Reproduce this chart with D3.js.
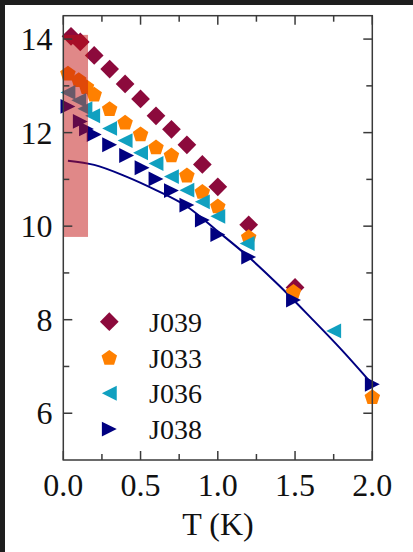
<!DOCTYPE html>
<html><head><meta charset="utf-8">
<script src="https://cdn.jsdelivr.net/npm/d3@7/dist/d3.min.js"></script>
<style>
html,body{margin:0;padding:0;background:#1e1e1e;}
svg{display:block;}
</style></head>
<body>
<script>
// ---- data ----
const seriesNames = ["J039", "J033", "J036", "J038"];
const seriesColors = ["#8c0a3c", "#ff8000", "#10a0c0", "#000080"];
const seriesSymbols = ["diamond", "pentagon", "triLeft", "triRight"];

const J039_T = [0.05, 0.11, 0.20, 0.30, 0.40, 0.50, 0.60, 0.70, 0.80, 0.90, 1.00, 1.20, 1.50];
const J039_v = [14.06, 13.94, 13.65, 13.36, 13.04, 12.72, 12.36, 12.07, 11.74, 11.32, 10.84, 10.03, 8.69];

const J033_T = [0.03, 0.10, 0.15, 0.20, 0.30, 0.40, 0.50, 0.60, 0.70, 0.80, 0.90, 1.00, 1.20, 1.49, 2.00];
const J033_v = [13.27, 13.13, 12.98, 12.82, 12.51, 12.22, 11.97, 11.69, 11.52, 11.09, 10.74, 10.43, 9.77, 8.60, 6.35];

const J036_T = [0.03, 0.10, 0.14, 0.19, 0.30, 0.40, 0.50, 0.60, 0.70, 0.80, 0.90, 1.00, 1.19, 1.75];
const J036_v = [12.86, 12.69, 12.51, 12.36, 12.09, 11.83, 11.57, 11.34, 11.06, 10.77, 10.52, 10.21, 9.63, 7.76];

const J038_T = [0.03, 0.11, 0.15, 0.20, 0.30, 0.41, 0.51, 0.60, 0.70, 0.80, 0.90, 1.00, 1.20, 1.49, 2.00];
const J038_v = [12.56, 12.24, 12.08, 11.96, 11.74, 11.51, 11.25, 11.01, 10.76, 10.45, 10.13, 9.82, 9.34, 8.42, 6.62];

const fit_T = [0.03, 0.20, 0.40, 0.60, 0.80, 1.00, 1.20, 1.40, 1.60, 1.80, 2.00];
const fit_v = [11.40, 11.31, 11.07, 10.77, 10.42, 9.89, 9.34, 8.72, 8.05, 7.36, 6.62];

const shadeT = [0.0, 0.16];
const shadeV = [9.77, 14.09];

const xTicks = [0, 0.5, 1.0, 1.5, 2.0];
const xMinor = [0.25, 0.75, 1.25, 1.75];
const yTicks = [6, 8, 10, 12, 14];
const yMinor = [7, 9, 11, 13];
const xLabel = "T (K)";

// ---- layout ----
const W = 413, H = 552;
const svg = d3.select("body").append("svg").attr("width", W).attr("height", H);
svg.append("rect").attr("x", 5).attr("y", 5).attr("width", W - 5).attr("height", H - 5).attr("fill", "#fff");

const x = d3.scaleLinear().domain([0, 2]).range([63.3, 372.3]);
const y = d3.scaleLinear().domain([5, 14.5]).range([460, 15.7]);
const font = "'Liberation Serif','Times New Roman',serif";
const axisColor = "#3a3a3a";

// data
const allSeries = [
  {T: J039_T, v: J039_v}, {T: J033_T, v: J033_v},
  {T: J036_T, v: J036_v}, {T: J038_T, v: J038_v}
];

function symbolPath(kind, s) {
  if (kind === "diamond") {
    const r = s * 0.78;
    return `M0,${-r}L${r},0L0,${r}L${-r},0Z`;
  }
  if (kind === "pentagon") {
    const r = s * 0.68;
    const pts = d3.range(5).map(i => {
      const a = -Math.PI / 2 + i * 2 * Math.PI / 5;
      return [r * Math.cos(a), r * Math.sin(a) + 0.6];
    });
    return "M" + pts.map(p => p.join(",")).join("L") + "Z";
  }
  const h = s * 0.62;
  if (kind === "triLeft") return `M${-h},0L${h},${-h}L${h},${h}Z`;
  return `M${h},0L${-h},${-h}L${-h},${h}Z`;
}

const plot = svg.append("g");
// fit line
const line = d3.line().x(d => x(d[0])).y(d => y(d[1])).curve(d3.curveMonotoneX);
plot.append("path")
  .attr("d", line(fit_T.map((t, i) => [t, fit_v[i]])))
  .attr("fill", "none").attr("stroke", "#000080").attr("stroke-width", 2);

allSeries.forEach((s, si) => {
  plot.selectAll(null).data(s.T.map((t, i) => [t, s.v[i]])).enter()
    .append("path")
    .attr("transform", d => `translate(${x(d[0])},${y(d[1])})`)
    .attr("d", symbolPath(seriesSymbols[si], 12))
    .attr("fill", seriesColors[si]);
});

// shaded rect
svg.append("rect")
  .attr("x", x(shadeT[0])).attr("width", x(shadeT[1]) - x(shadeT[0]))
  .attr("y", y(shadeV[1])).attr("height", y(shadeV[0]) - y(shadeV[1]))
  .attr("fill", "rgb(193,17,17)").attr("fill-opacity", 0.5);

// axes
const ax = svg.append("g").attr("stroke", axisColor).attr("stroke-width", 1.5);
ax.append("rect").attr("x", x(0)).attr("y", y(14.5)).attr("width", x(2) - x(0))
  .attr("height", y(5) - y(14.5)).attr("fill", "none");
const maj = 9, mn = 6;
xTicks.forEach(t => {
  ax.append("line").attr("x1", x(t)).attr("x2", x(t)).attr("y1", y(5)).attr("y2", y(5) - maj);
  ax.append("line").attr("x1", x(t)).attr("x2", x(t)).attr("y1", y(14.5)).attr("y2", y(14.5) + maj);
});
xMinor.forEach(t => {
  ax.append("line").attr("x1", x(t)).attr("x2", x(t)).attr("y1", y(5)).attr("y2", y(5) - mn);
  ax.append("line").attr("x1", x(t)).attr("x2", x(t)).attr("y1", y(14.5)).attr("y2", y(14.5) + mn);
});
yTicks.forEach(v => {
  ax.append("line").attr("x1", x(0)).attr("x2", x(0) + maj).attr("y1", y(v)).attr("y2", y(v));
  ax.append("line").attr("x1", x(2)).attr("x2", x(2) - maj).attr("y1", y(v)).attr("y2", y(v));
});
yMinor.forEach(v => {
  ax.append("line").attr("x1", x(0)).attr("x2", x(0) + mn).attr("y1", y(v)).attr("y2", y(v));
  ax.append("line").attr("x1", x(2)).attr("x2", x(2) - mn).attr("y1", y(v)).attr("y2", y(v));
});

// tick labels
svg.selectAll(null).data(xTicks).enter().append("text")
  .attr("x", d => x(d)).attr("y", 496)
  .attr("text-anchor", "middle").attr("font-family", font).attr("font-size", 32)
  .attr("fill", "#111").text(d => d3.format(".1f")(d));
svg.selectAll(null).data(yTicks).enter().append("text")
  .attr("x", 52.5).attr("y", d => y(d) + 11)
  .attr("text-anchor", "end").attr("font-family", font).attr("font-size", 32)
  .attr("fill", "#111").text(d => d);
svg.append("text").attr("x", 218).attr("y", 535).attr("text-anchor", "middle")
  .attr("font-family", font).attr("font-size", 32).attr("fill", "#111").text(xLabel);

// legend
const lg = svg.append("g");
seriesNames.forEach((n, i) => {
  const yy = 321.7 + i * 35.8;
  lg.append("path").attr("transform", `translate(109.3,${yy})`)
    .attr("d", symbolPath(seriesSymbols[i], 12)).attr("fill", seriesColors[i]);
  lg.append("text").attr("x", 149).attr("y", yy + 10)
    .attr("font-family", font).attr("font-size", 28).attr("fill", "#111").text(n);
});
</script>
</body></html>
